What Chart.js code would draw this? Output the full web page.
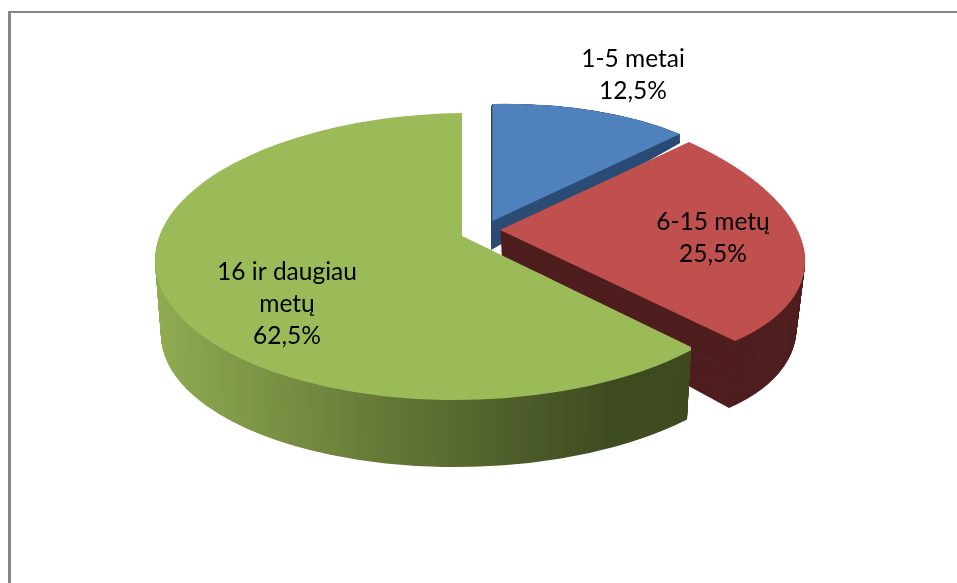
<!DOCTYPE html>
<html><head><meta charset="utf-8">
<style>html,body{margin:0;padding:0;background:#fff}canvas{display:block}</style>
<script src="https://cdn.jsdelivr.net/npm/chart.js@4/dist/chart.umd.min.js"></script>
</head><body><canvas id="c" width="957" height="583"></canvas>
<script>
const categories = [['1-5 metai'], ['6-15 metų'], ['16 ir daugiau', 'metų']];
const shares = [12.5, 25.5, 62.5];

const topColors = ['#4F81BD', '#C0504D', '#9BBB59'];
const wallColors = ['#2C4D75', '#4F1E1E', null];
const FONT = '24.5px Lato';
const LINE = 32;
const labelAt = [[633, 59], [713, 222], [287, 272]];

/* 3D projection of each slice: apex and the two rim ends on top / bottom face */
const tilt = [
  {top: {apex:[492.5,221], a:[492.5,104], b:[680,134]}, bottom: {apex:[491,250], a:[491,107], b:[680,143]}},
  {top: {apex:[500,230], a:[689,142], b:[735,341]}, bottom: {apex:[503,285], a:[685,200], b:[729,408]}}
];
const greenTop = {cx:463, cy:256.5, rx:308, ry:143.5, k:-0.012, apex:[462,236], end:[691,347]};
const greenBottom = {cx:463, cy:331, rx:302, ry:136, k:-0.012, apex:[462,300], end:[687,415]};
const greenWallStops = [[0,'#90AB52'],[0.36,'#667A37'],[0.60,'#4C5B29'],[0.74,'#3F4C20'],[1,'#3D4A1F']];

const lerp = (p, q, t) => p + (q - p) * t;
function matFromRim(el, f) {
  const u1 = [Math.cos(el.startAngle), Math.sin(el.startAngle)];
  const u2 = [Math.cos(el.endAngle), Math.sin(el.endAngle)];
  const det = u1[0] * u2[1] - u2[0] * u1[1];
  const p1 = [f.a[0] - f.apex[0], f.a[1] - f.apex[1]];
  const p2 = [f.b[0] - f.apex[0], f.b[1] - f.apex[1]];
  const inv = [u2[1] / det, -u2[0] / det, -u1[1] / det, u1[0] / det];
  return {x: f.apex[0], y: f.apex[1],
    m: [p1[0]*inv[0] + p2[0]*inv[2], p1[1]*inv[0] + p2[1]*inv[2],
        p1[0]*inv[1] + p2[0]*inv[3], p1[1]*inv[1] + p2[1]*inv[3]]};
}
function lerpFrame(A, B, t) {
  return {x: lerp(A.x, B.x, t), y: lerp(A.y, B.y, t), m: A.m.map((v, i) => lerp(v, B.m[i], t))};
}
function drawArc(ctx, el, F, fill) {
  const R = el.outerRadius, o = el.options, keep = o.backgroundColor;
  ctx.save();
  ctx.translate(F.x, F.y);
  ctx.transform(F.m[0] / R, F.m[1] / R, F.m[2] / R, F.m[3] / R, 0, 0);
  ctx.translate(-el.x, -el.y);
  o.backgroundColor = fill;
  el.draw(ctx);
  o.backgroundColor = keep;
  ctx.restore();
}
function greenFrame(g) { return {x: g.cx, y: g.cy, m: [g.rx, g.k * g.rx, 0, g.ry]}; }
function drawGreen(ctx, el, t, fill) {
  const A = greenFrame(greenTop), B = greenFrame(greenBottom), F = lerpFrame(A, B, t);
  const ap = [lerp(greenTop.apex[0], greenBottom.apex[0], t), lerp(greenTop.apex[1], greenBottom.apex[1], t)];
  const en = [lerp(greenTop.end[0], greenBottom.end[0], t), lerp(greenTop.end[1], greenBottom.end[1], t)];
  ctx.save();
  ctx.beginPath();
  ctx.moveTo(ap[0], ap[1]);
  ctx.lineTo(ap[0], -3000);
  ctx.lineTo(-3000, -3000);
  ctx.lineTo(-3000, 4000);
  ctx.lineTo(en[0], 4000);
  ctx.lineTo(en[0], en[1]);
  ctx.closePath();
  ctx.clip();
  /* widen the arc a little; the clip above gives the real edge of the slice */
  const s = el.startAngle, c = el.circumference, widen = 0.35;
  el.startAngle = s - widen; el.circumference = c + widen;
  drawArc(ctx, el, F, fill);
  el.startAngle = s; el.circumference = c;
  const ang = s - widen;
  const wx = F.x + F.m[0] * Math.cos(ang) + F.m[2] * Math.sin(ang);
  const wy = F.y + F.m[1] * Math.cos(ang) + F.m[3] * Math.sin(ang);
  ctx.fillStyle = fill;
  ctx.beginPath();
  ctx.moveTo(ap[0], ap[1]);
  ctx.lineTo(F.x, F.y + 4);
  ctx.lineTo(wx, wy + 4);
  ctx.closePath();
  ctx.fill();
  ctx.restore();
}

const pie3d = {
  id: 'pie3d',
  beforeDatasetsDraw(chart) {
    const ctx = chart.ctx, arcs = chart.getDatasetMeta(0).data;
    tilt.forEach((f, i) => {
      const el = arcs[i], A = matFromRim(el, f.top), B = matFromRim(el, f.bottom);
      const n = Math.ceil(Math.abs(B.y - A.y) * 1.5);
      for (let s = n; s > 0; s--) drawArc(ctx, el, lerpFrame(A, B, s / n), wallColors[i]);
      drawArc(ctx, el, A, topColors[i]);
    });
    const el = arcs[2], R = el.outerRadius;
    const grad = ctx.createLinearGradient(el.x - R, 0, el.x + R, 0);
    greenWallStops.forEach(([p, col]) => grad.addColorStop(p, col));
    const n = 110;
    for (let s = n; s > 0; s--) drawGreen(ctx, el, s / n, grad);
    drawGreen(ctx, el, 0, topColors[2]);
    return false;
  },
  afterDraw(chart) {
    const ctx = chart.ctx;
    ctx.save();
    ctx.fillStyle = '#868686';
    ctx.fillRect(8, 11, 949, 2);
    ctx.fillRect(8, 11, 3, 572);
    ctx.font = FONT;
    ctx.fillStyle = '#000';
    ctx.textAlign = 'center';
    ctx.textBaseline = 'middle';
    categories.forEach((lines, i) => {
      const text = [...lines, String(shares[i]).replace('.', ',') + '%'];
      text.forEach((t, j) => ctx.fillText(t, labelAt[i][0], labelAt[i][1] + j * LINE));
    });
    ctx.restore();
  }
};

new Chart(document.getElementById('c'), {
  type: 'pie',
  data: {labels: categories, datasets: [{data: shares, backgroundColor: topColors, borderWidth: 0}]},
  options: {
    responsive: false, animation: false, rotation: 0,
    plugins: {legend: {display: false}, tooltip: {enabled: false}}
  },
  plugins: [pie3d]
});
</script></body></html>
